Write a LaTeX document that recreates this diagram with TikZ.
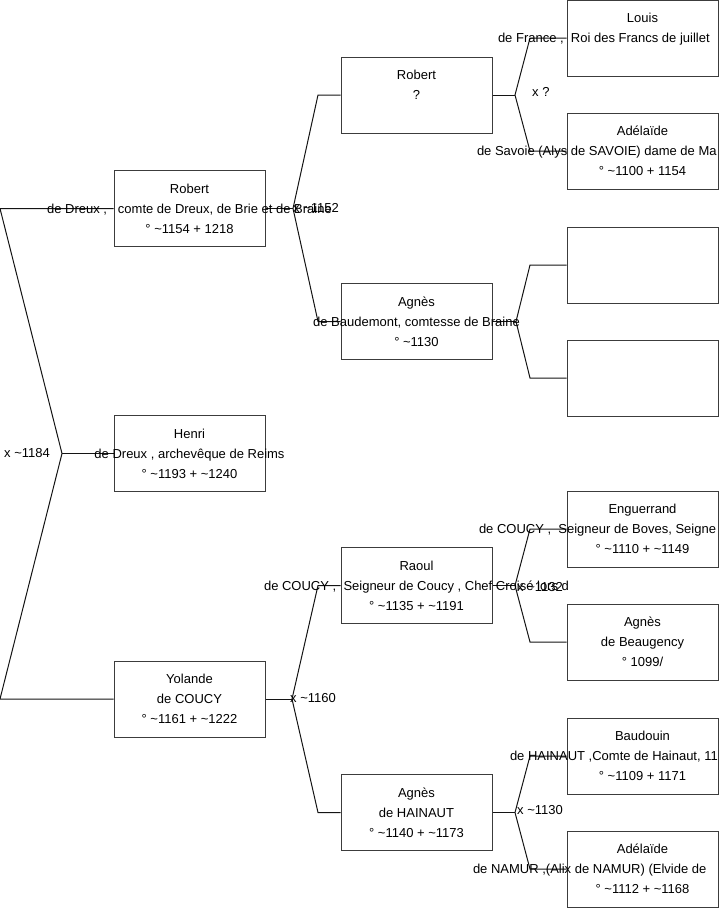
\documentclass[tikz,border=0pt]{standalone}
\usepackage{fontspec}
\setmainfont{Liberation Sans}
\usetikzlibrary{positioning,calc}
\definecolor{boxgray}{RGB}{60,60,60}
\definecolor{linkblack}{RGB}{20,20,20}

\begin{document}
\begin{tikzpicture}[
 x=1pt, y=-1pt,
 person/.style={rectangle, draw=boxgray, line width=1pt, minimum width=151pt, minimum height=76pt, inner sep=0pt},
 info/.style={align=center, inner sep=0pt, font=\fontsize{13}{20}\selectfont},
 link/.style={line width=1pt, color=linkblack},
 wed/.style={anchor=west, inner sep=0pt, font=\fontsize{13}{20}\selectfont}
]
\useasboundingbox (0,0) rectangle (719,908);
\clip (0,0) rectangle (719,908);

% Generation 0
\node[person] (robert) at (189.5,208.5) {};
\node[person] (henri) at (189.5,453.5) {};
\node[person] (yolande) at (189.5,699) {};

% Generation 1
\node[person] (robertf) at (416.5,95) {};
\node[person] (agnesb) at (416.5,321.5) {};
\node[person] (raoul) at (416.5,585.5) {};
\node[person] (agnesh) at (416.5,812.5) {};

% Generation 2
\node[person] (louis) at (642.5,38) {};
\node[person] (adelaides) at (642.5,151) {};
\node[person] (emptya) at (642.5,265) {};
\node[person] (emptyb) at (642.5,378) {};
\node[person] (enguerrand) at (642.5,529) {};
\node[person] (agnesbg) at (642.5,642) {};
\node[person] (baudouin) at (642.5,756) {};
\node[person] (adelaiden) at (642.5,869) {};

% Fork points
\coordinate (f0a) at (0,208.5);
\coordinate (f0b) at (0,699);
\coordinate (j0) at (62,453.5);
\coordinate (j1a) at (293,208.5);
\coordinate (k1a) at (318,95);
\coordinate (k1b) at (318,321.5);
\coordinate (j1b) at (292,699);
\coordinate (k1c) at (318,585.5);
\coordinate (k1d) at (318,812.5);
\coordinate (j2a) at (515,95);
\coordinate (k2a) at (530,38);
\coordinate (k2b) at (530,151);
\coordinate (j2b) at (516,321.5);
\coordinate (k2c) at (530,265);
\coordinate (k2d) at (530,378);
\coordinate (j2c) at (515,585.5);
\coordinate (k2e) at (530,529);
\coordinate (k2f) at (530,642);
\coordinate (j2d) at (515,812.5);
\coordinate (k2g) at (530,756);
\coordinate (k2h) at (530,869);

% Connectors
\draw[link] (robert.west) -- (f0a) -- (j0) -- (f0b) -- (yolande.west);
\draw[link] (j0) -- (henri.west);
\draw[link] (robert.east) -- (j1a);
\draw[link] (robertf.west) -- (k1a) -- (j1a) -- (k1b) -- (agnesb.west);
\draw[link] (yolande.east) -- (j1b);
\draw[link] (raoul.west) -- (k1c) -- (j1b) -- (k1d) -- (agnesh.west);
\draw[link] (robertf.east) -- (j2a);
\draw[link] (louis.west) -- (k2a) -- (j2a) -- (k2b) -- (adelaides.west);
\draw[link] (agnesb.east) -- (j2b);
\draw[link] (emptya.west) -- (k2c) -- (j2b) -- (k2d) -- (emptyb.west);
\draw[link] (raoul.east) -- (j2c);
\draw[link] (enguerrand.west) -- (k2e) -- (j2c) -- (k2f) -- (agnesbg.west);
\draw[link] (agnesh.east) -- (j2d);
\draw[link] (baudouin.west) -- (k2g) -- (j2d) -- (k2h) -- (adelaiden.west);

% Texts
\node[info] (robert-t) at (robert) {Robert\\de Dreux ,\ \ \ comte de Dreux, de Brie et de Braine\\° \textasciitilde1154 + 1218};
\node[info] (henri-t) at (henri) {Henri\\de Dreux , archevêque de Reims\\° \textasciitilde1193 + \textasciitilde1240};
\node[info] (yolande-t) at (yolande) {Yolande\\de COUCY\\° \textasciitilde1161 + \textasciitilde1222};
\node[info] (robertf-t) at (robertf) {Robert\\?\\\mbox{}};
\node[info] (agnesb-t) at (agnesb) {Agnès\\de Baudemont, comtesse de Braine\\° \textasciitilde1130};
\node[info] (raoul-t) at (raoul) {Raoul\\de COUCY ,\ \ Seigneur de Coucy , Chef Croisé lors d\\° \textasciitilde1135 + \textasciitilde1191};
\node[info] (agnesh-t) at (agnesh) {Agnès\\de HAINAUT\\° \textasciitilde1140 + \textasciitilde1173};
\node[info] (louis-t) at (louis) {Louis\\\makebox[289pt][l]{de France ,\ \ Roi des Francs de juillet}\\\mbox{}};
\node[info] (adelaides-t) at (adelaides) {Adélaïde\\\makebox[331pt][l]{de Savoie (Alys de SAVOIE) dame de Ma}\\° \textasciitilde1100 + 1154};
\node[info] (enguerrand-t) at (enguerrand) {Enguerrand\\\makebox[327pt][l]{de COUCY ,\ \ Seigneur de Boves, Seigne}\\° \textasciitilde1110 + \textasciitilde1149};
\node[info] (agnesbg-t) at (agnesbg) {Agnès\\de Beaugency\\° 1099/};
\node[info] (baudouin-t) at (baudouin) {Baudouin\\\makebox[265pt][l]{de HAINAUT ,Comte de Hainaut, 11}\\° \textasciitilde1109 + 1171};
\node[info] (adelaiden-t) at (adelaiden) {Adélaïde\\\makebox[339pt][l]{de NAMUR ,(Alix de NAMUR) (Elvide de}\\° \textasciitilde1112 + \textasciitilde1168};

% Marriages
\node[wed] (m0) at (4,453) {x \textasciitilde1184};
\node[wed] (m1a) at (293,208) {x \textasciitilde1152};
\node[wed] (m1b) at (290,698) {x \textasciitilde1160};
\node[wed] (m2a) at (532,92) {x ?};
\node[wed] (m2c) at (517,587) {x \textasciitilde1132};
\node[wed] (m2d) at (517,810) {x \textasciitilde1130};

\end{tikzpicture}
\end{document}
